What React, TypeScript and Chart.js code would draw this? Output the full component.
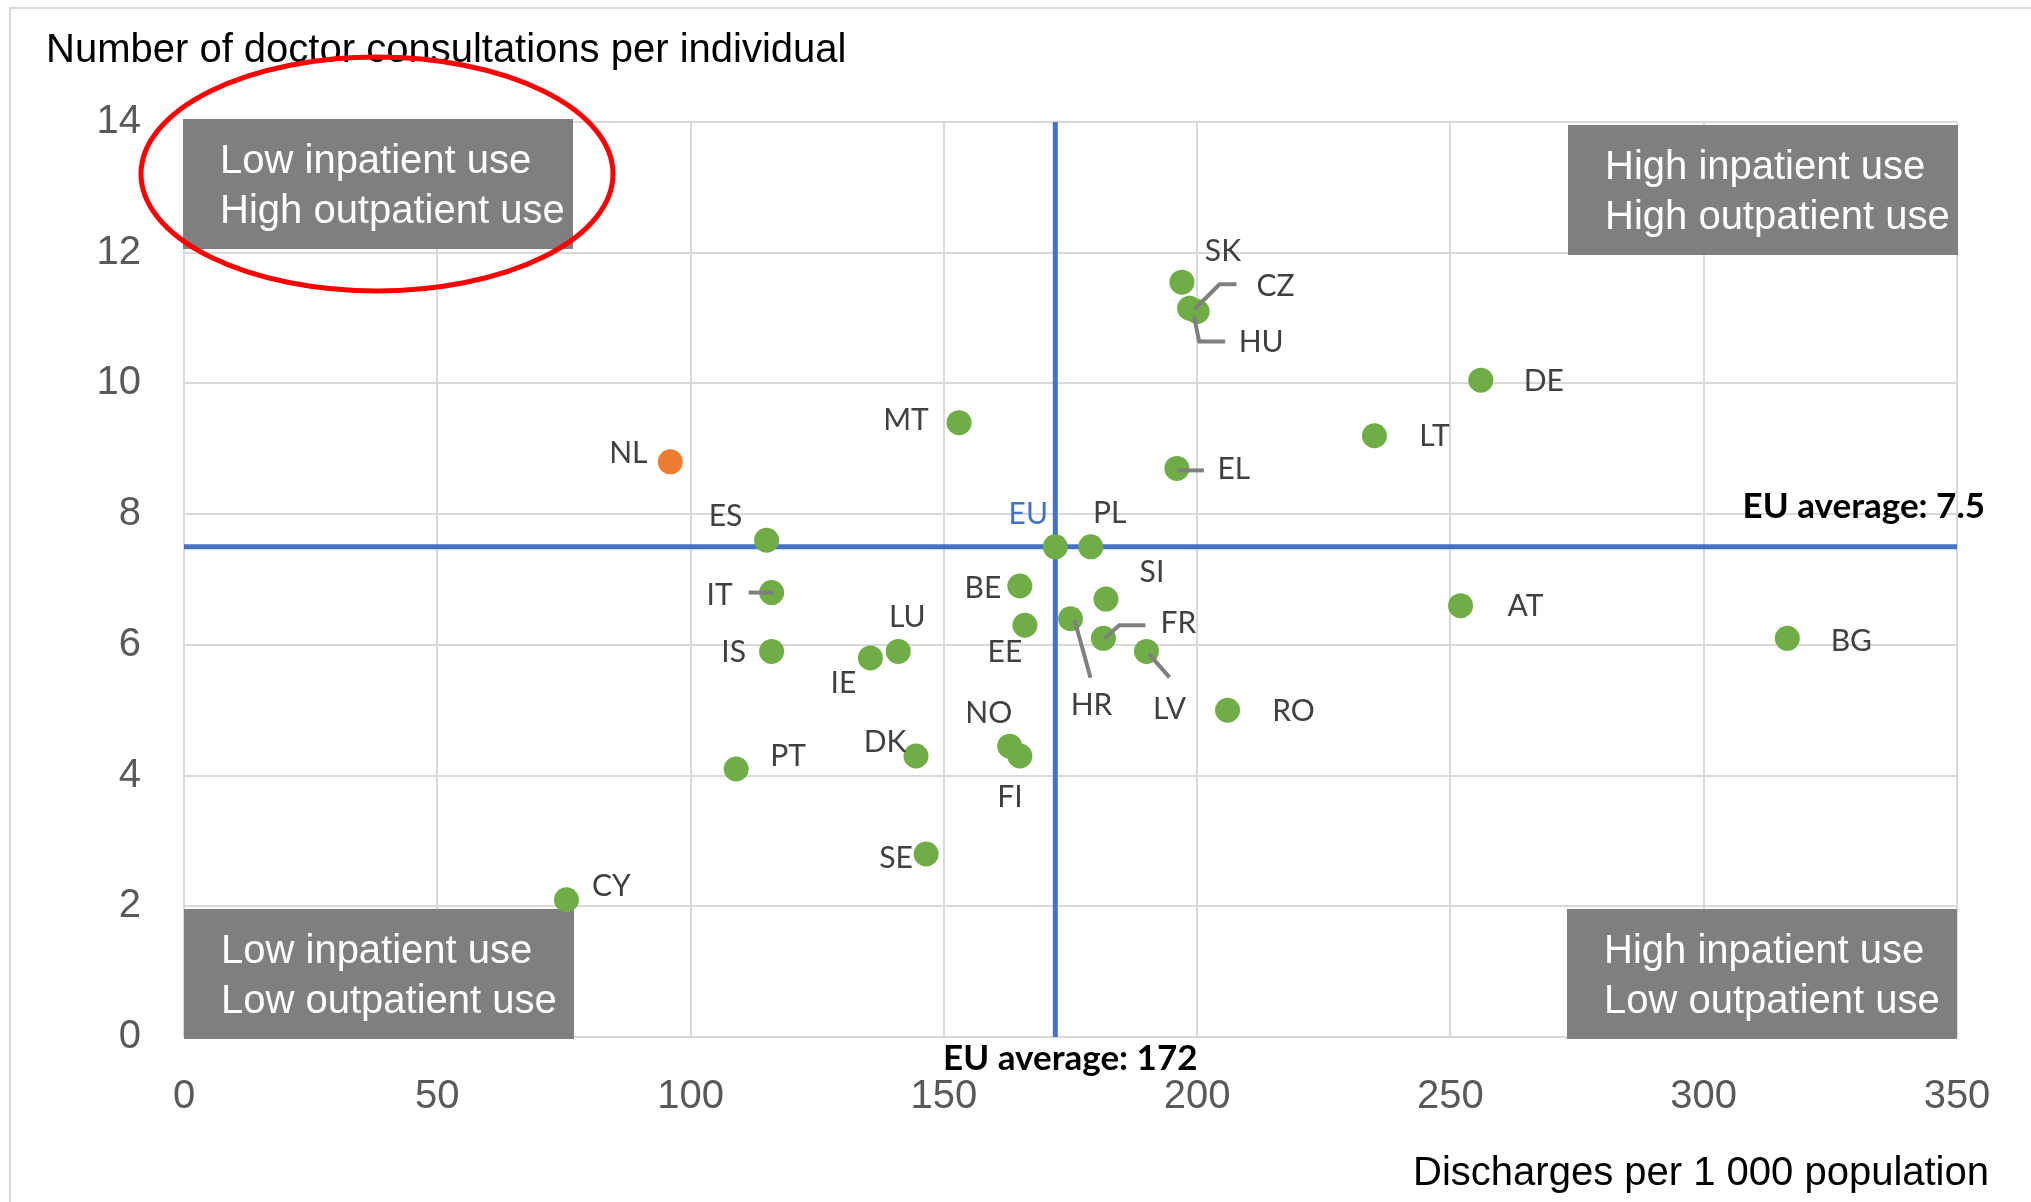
import { useEffect, useRef } from 'react';
import { Chart, registerables } from 'chart.js';

Chart.register(...registerables);

// Country codes and their values
const COUNTRIES = [
  'SK', 'CZ', 'HU', 'DE', 'LT', 'MT', 'NL', 'EL', 'ES', 'EU',
  'PL', 'IT', 'BE', 'SI', 'HR', 'EE', 'FR', 'LV', 'IS', 'LU',
  'IE', 'AT', 'BG', 'RO', 'NO', 'DK', 'FI', 'PT', 'SE', 'CY',
];
const DISCHARGES = [
  197, 198.5, 200, 256, 235, 153, 96, 196, 115, 172,
  179, 116, 165, 182, 175, 166, 181.5, 190, 116, 141,
  135.5, 252, 316.5, 206, 163, 144.5, 165, 109, 146.5, 75.5,
];
const CONSULTATIONS = [
  11.55, 11.15, 11.1, 10.05, 9.2, 9.4, 8.8, 8.7, 7.6, 7.5,
  7.5, 6.8, 6.9, 6.7, 6.4, 6.3, 6.1, 5.9, 5.9, 5.9,
  5.8, 6.6, 6.1, 5.0, 4.45, 4.3, 4.3, 4.1, 2.8, 2.1,
];
const HIGHLIGHTED = ['NL'];

const EU_AVG_DISCHARGES = 172;
const EU_AVG_CONSULTATIONS = 7.5;

const X_MIN = 0;
const X_MAX = 350;
const X_STEP = 50;
const Y_MIN = 0;
const Y_MAX = 14;
const Y_STEP = 2;

const Y_TITLE = 'Number of doctor consultations per individual';
const X_TITLE = 'Discharges per 1 000 population';
const QUADRANTS = [
  ['Low inpatient use', 'High outpatient use'],
  ['High inpatient use', 'High outpatient use'],
  ['Low inpatient use', 'Low outpatient use'],
  ['High inpatient use', 'Low outpatient use'],
];

// Label placement (pixel offsets from each point) and optional leader lines
type Placement = { dx: number; dy: number; leader?: [number, number][] };
const LABEL_PLACEMENT: Record<string, Placement> = {
  SK: { dx: 41, dy: -31 },
  CZ: { dx: 86, dy: -22, leader: [[47, -24], [30, -24], [5, 1]] },
  HU: { dx: 64, dy: 31, leader: [[28, 30], [2, 30], [-3, 5]] },
  DE: { dx: 63, dy: 1 },
  LT: { dx: 60, dy: 1 },
  MT: { dx: -53, dy: -2 },
  NL: { dx: -42, dy: -9 },
  EL: { dx: 57, dy: 1, leader: [[0, 2], [27, 2]] },
  ES: { dx: -41, dy: -24 },
  EU: { dx: -27, dy: -32 },
  PL: { dx: 19, dy: -33 },
  IT: { dx: -52, dy: 3, leader: [[-23, 0], [2, 0]] },
  BE: { dx: -37, dy: 2 },
  SI: { dx: 46, dy: -27 },
  HR: { dx: 21, dy: 87, leader: [[4, 1], [20, 59]] },
  EE: { dx: -20, dy: 27 },
  FR: { dx: 75, dy: -15, leader: [[42, -13], [16, -13], [1, 0]] },
  LV: { dx: 23, dy: 58, leader: [[2, 2], [23, 26]] },
  IS: { dx: -38, dy: 1 },
  LU: { dx: 9, dy: -34 },
  IE: { dx: -27, dy: 25 },
  AT: { dx: 65, dy: 1 },
  BG: { dx: 64, dy: 3 },
  RO: { dx: 66, dy: 1 },
  NO: { dx: -21, dy: -33 },
  DK: { dx: -31, dy: -14 },
  FI: { dx: -10, dy: 41 },
  PT: { dx: 52, dy: -13 },
  SE: { dx: -30, dy: 4 },
  CY: { dx: 45, dy: -13 },
};

const ARIAL = '"Liberation Sans", Arial, sans-serif';
const LABEL_FONT = 'Lato, "Open Sans", sans-serif';
const GREEN = '#70AD47';
const ORANGE = '#ED7D31';
const BLUE = '#4472C4';
const GRID = '#D9D9D9';
const BOX = '#7F7F7F';

const decorPlugin = {
  id: 'decor',
  beforeDraw(chart: any) {
    const { ctx, width, height } = chart;
    ctx.save();
    ctx.fillStyle = '#ffffff';
    ctx.fillRect(0, 0, width, height);
    // outer frame
    ctx.strokeStyle = GRID;
    ctx.lineWidth = 2;
    ctx.beginPath();
    ctx.moveTo(10, height);
    ctx.lineTo(10, 8);
    ctx.lineTo(width, 8);
    ctx.stroke();
    ctx.restore();
  },
  beforeDatasetsDraw(chart: any) {
    const { ctx, chartArea } = chart;
    const { left, right, top, bottom } = chartArea;
    const w = 390;
    const h = 130;
    const boxes = [
      { x: left - 1, y: top - 3 },
      { x: right - w + 1, y: top + 3 },
      { x: left, y: bottom - h + 2 },
      { x: right - w, y: bottom - h + 2 },
    ];
    ctx.save();
    ctx.font = `40px ${ARIAL}`;
    ctx.textAlign = 'left';
    ctx.textBaseline = 'alphabetic';
    boxes.forEach((b, i) => {
      ctx.fillStyle = BOX;
      ctx.fillRect(b.x, b.y, w, h);
      ctx.fillStyle = '#ffffff';
      ctx.fillText(QUADRANTS[i][0], b.x + 37, b.y + 54);
      ctx.fillText(QUADRANTS[i][1], b.x + 37, b.y + 104);
    });
    ctx.restore();
  },
  afterDatasetsDraw(chart: any) {
    const { ctx, chartArea, scales } = chart;
    const { left, right, top, bottom } = chartArea;
    ctx.save();

    // leader lines and country labels
    const meta = chart.getDatasetMeta(0);
    meta.data.forEach((pt: any, i: number) => {
      const code = COUNTRIES[i];
      const place = LABEL_PLACEMENT[code] || { dx: 40, dy: 0 };
      const { x, y } = pt.getProps(['x', 'y'], true);
      if (place.leader) {
        ctx.strokeStyle = '#7F7F7F';
        ctx.lineWidth = 4;
        ctx.lineJoin = 'miter';
        ctx.beginPath();
        place.leader.forEach(([lx, ly], j) => {
          if (j === 0) ctx.moveTo(x + lx, y + ly);
          else ctx.lineTo(x + lx, y + ly);
        });
        ctx.stroke();
      }
      ctx.font = `30px ${LABEL_FONT}`;
      ctx.textAlign = 'center';
      ctx.textBaseline = 'middle';
      ctx.fillStyle = code === 'EU' ? BLUE : '#404040';
      ctx.fillText(code, x + place.dx, y + place.dy);
    });

    // average labels
    ctx.font = `bold 35px ${LABEL_FONT}`;
    ctx.fillStyle = '#000000';
    ctx.textBaseline = 'alphabetic';
    ctx.textAlign = 'center';
    ctx.fillText(`EU average: ${EU_AVG_DISCHARGES}`, scales.x.getPixelForValue(EU_AVG_DISCHARGES) + 15, bottom + 33);
    ctx.textAlign = 'right';
    ctx.fillText(`EU average: ${EU_AVG_CONSULTATIONS}`, right + 28, scales.y.getPixelForValue(EU_AVG_CONSULTATIONS) - 29);

    // axis titles
    ctx.font = `40px ${ARIAL}`;
    ctx.fillStyle = '#000000';
    ctx.textAlign = 'left';
    ctx.fillText(Y_TITLE, left - 138, top - 60);
    ctx.textAlign = 'right';
    ctx.fillText(X_TITLE, right + 32, bottom + 148);

    // highlight ellipse around the upper-left quadrant box
    ctx.strokeStyle = '#FF0000';
    ctx.lineWidth = 5;
    ctx.beginPath();
    ctx.ellipse(left + 193, top + 52, 236, 117, 0, 0, Math.PI * 2);
    ctx.stroke();

    ctx.restore();
  },
};

export default function App() {
  const canvasRef = useRef<HTMLCanvasElement>(null);

  useEffect(() => {
    const canvas = canvasRef.current;
    if (!canvas) return;

    const points = COUNTRIES.map((_, i) => ({ x: DISCHARGES[i], y: CONSULTATIONS[i] }));
    const colors = COUNTRIES.map((c) => (HIGHLIGHTED.includes(c) ? ORANGE : GREEN));

    const chart = new Chart(canvas, {
      type: 'scatter',
      data: {
        datasets: [
          {
            label: 'Countries',
            data: points,
            backgroundColor: colors,
            borderWidth: 0,
            pointRadius: 12.5,
            pointHoverRadius: 12.5,
            order: 0,
            clip: false as any,
          },
          {
            label: 'EU average consultations',
            data: [
              { x: X_MIN, y: EU_AVG_CONSULTATIONS },
              { x: X_MAX, y: EU_AVG_CONSULTATIONS },
            ],
            showLine: true,
            borderColor: BLUE,
            borderWidth: 5,
            pointRadius: 0,
            order: 1,
            clip: false as any,
          },
          {
            label: 'EU average discharges',
            data: [
              { x: EU_AVG_DISCHARGES, y: Y_MIN },
              { x: EU_AVG_DISCHARGES, y: Y_MAX },
            ],
            showLine: true,
            borderColor: BLUE,
            borderWidth: 5,
            pointRadius: 0,
            order: 1,
            clip: false as any,
          },
        ],
      },
      options: {
        responsive: false,
        animation: false,
        devicePixelRatio: 1,
        layout: { padding: { top: 122, right: 74, left: 0, bottom: 0 } },
        plugins: {
          legend: { display: false },
          tooltip: { enabled: false },
          title: { display: false },
        },
        scales: {
          x: {
            type: 'linear',
            min: X_MIN,
            max: X_MAX,
            ticks: {
              stepSize: X_STEP,
              color: '#595959',
              font: { family: ARIAL, size: 40 },
              padding: 36,
              maxRotation: 0,
            },
            grid: { color: GRID, lineWidth: 2, drawTicks: false },
            border: { display: false },
            afterFit: (scale: any) => {
              scale.height = 165;
            },
          },
          y: {
            type: 'linear',
            min: Y_MIN,
            max: Y_MAX,
            ticks: {
              stepSize: Y_STEP,
              color: '#595959',
              font: { family: ARIAL, size: 40 },
              padding: 43,
            },
            grid: { color: GRID, lineWidth: 2, drawTicks: false },
            border: { display: false },
            afterFit: (scale: any) => {
              scale.width = 184;
            },
          },
        },
      },
      plugins: [decorPlugin],
    });

    return () => chart.destroy();
  }, []);

  return (
    <div style={{ position: 'fixed', left: 0, top: 0, width: 2031, height: 1202, background: '#ffffff' }}>
      <canvas ref={canvasRef} width={2031} height={1202} style={{ display: 'block', width: 2031, height: 1202 }} />
    </div>
  );
}
